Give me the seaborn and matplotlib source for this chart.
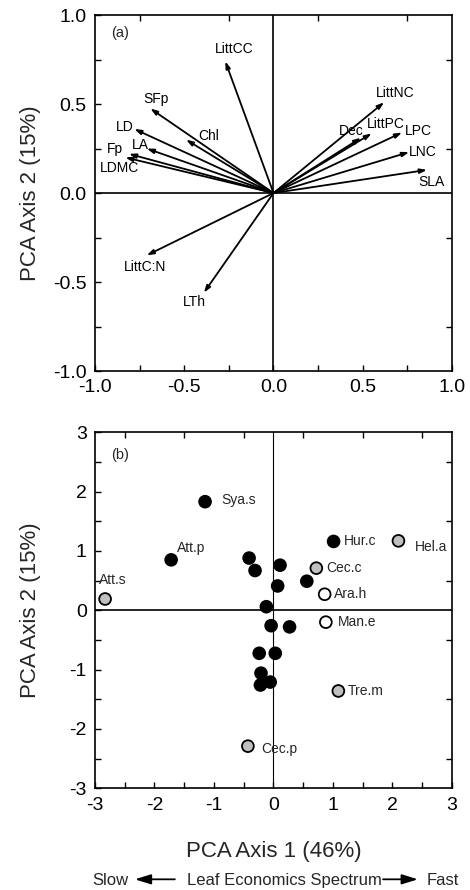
import matplotlib
matplotlib.use("Agg")
import matplotlib.pyplot as plt
import seaborn as sns
import pandas as pd
import numpy as np

# ---------------- data ----------------
# Panel (a): trait loadings
traits = ["LittCC", "SFp", "LD", "Chl", "LA", "Fp", "LDMC",
          "LittNC", "Dec", "LittPC", "LPC", "LNC", "SLA", "LittC:N", "LTh"]
load_pc1 = [-0.27, -0.69, -0.78, -0.49, -0.71, -0.81, -0.83,
            0.62, 0.49, 0.55, 0.72, 0.76, 0.86, -0.71, -0.39]
load_pc2 = [0.74, 0.475, 0.36, 0.30, 0.25, 0.22, 0.20,
            0.51, 0.31, 0.335, 0.34, 0.23, 0.13, -0.35, -0.56]

# Panel (b): species scores
species = ["Sya.s", "Att.p", "Att.s", "", "", "", "", "",
           "Hur.c", "Hel.a", "Cec.c", "Ara.h", "Man.e", "", "", "",
           "", "", "", "", "", "Tre.m", "Cec.p"]
score_pc1 = [-1.15, -1.72, -2.83, -0.41, -0.31, 0.11, 0.07, 0.56,
             1.01, 2.10, 0.72, 0.86, 0.88, -0.12, -0.04, 0.27,
             -0.24, 0.03, -0.21, -0.22, -0.055, 1.09, -0.43]
score_pc2 = [1.83, 0.85, 0.19, 0.88, 0.67, 0.76, 0.41, 0.49,
             1.16, 1.17, 0.71, 0.27, -0.20, 0.06, -0.26, -0.28,
             -0.725, -0.725, -1.06, -1.26, -1.21, -1.36, -2.29]
group = ["black", "black", "grey", "black", "black", "black", "black", "black",
         "black", "grey", "grey", "white", "white", "black", "black", "black",
         "black", "black", "black", "black", "black", "grey", "grey"]

# ---------------- style ----------------
sns.set_theme(style="ticks")
plt.rcParams["font.family"] = ["Liberation Sans", "DejaVu Sans"]
plt.rcParams["axes.linewidth"] = 1.2
plt.rcParams["axes.unicode_minus"] = False

fig = plt.figure(figsize=(4.7, 8.9), dpi=100)
axA = fig.add_axes([0.2021, 0.5831, 0.7596, 0.4])
axB = fig.add_axes([0.2021, 0.1143, 0.7596, 0.4])


def style_ax(ax, lim, major, minor):
    ax.set_xlim(-lim, lim)
    ax.set_ylim(-lim, lim)
    ax.set_xticks(np.arange(-lim, lim + 1e-9, major))
    ax.set_yticks(np.arange(-lim, lim + 1e-9, major))
    ax.set_xticks(np.arange(-lim, lim + 1e-9, minor), minor=True)
    ax.set_yticks(np.arange(-lim, lim + 1e-9, minor), minor=True)
    ax.tick_params(which="both", direction="in", length=4, width=1.0,
                   labelsize=14, colors="black")
    ax.tick_params(which="minor", top=True, right=True)
    ax.tick_params(which="major", pad=6)
    for s in ax.spines.values():
        s.set_visible(True)
        s.set_color("black")
        s.set_linewidth(1.2)
    ax.set_facecolor("white")


# ---------------- panel (a) ----------------
style_ax(axA, 1.0, 0.5, 0.25)
axA.set_xticklabels([f"{v:.1f}" for v in np.arange(-1.0, 1.01, 0.5)])
axA.set_yticklabels([f"{v:.1f}" for v in np.arange(-1.0, 1.01, 0.5)])
axA.axhline(0, color="black", lw=1.2, zorder=1)
axA.axvline(0, color="black", lw=1.2, zorder=1)
for x, y in zip(load_pc1, load_pc2):
    axA.annotate("", xy=(x, y), xytext=(0, 0),
                 arrowprops=dict(arrowstyle="-|>,head_length=0.45,head_width=0.15",
                                 lw=1.3, color="black", shrinkA=0, shrinkB=0,
                                 mutation_scale=9),
                 zorder=2)
# label placement (layout)
a_label_pos = {"LittCC": (-0.22, 0.81), "SFp": (-0.66, 0.53), "LD": (-0.835, 0.37),
               "Chl": (-0.365, 0.32), "LA": (-0.745, 0.27), "Fp": (-0.89, 0.245),
               "LDMC": (-0.86, 0.14), "LittNC": (0.68, 0.56), "Dec": (0.436, 0.35),
               "LittPC": (0.63, 0.39), "LPC": (0.81, 0.346), "LNC": (0.838, 0.228),
               "SLA": (0.885, 0.06), "LittC:N": (-0.72, -0.414), "LTh": (-0.446, -0.61)}
for t in traits:
    px, py = a_label_pos[t]
    axA.text(px, py, t, ha="center", va="center", fontsize=10, color="black")
axA.text(-0.86, 0.90, "(a)", ha="center", va="center", fontsize=10.5)
axA.set_ylabel("PCA Axis 2 (15%)", fontsize=16)
axA.yaxis.set_label_coords(-0.151, 0.5)
axA.set_xlabel("")

# ---------------- panel (b) ----------------
style_ax(axB, 3, 1, 0.5)
axB.axhline(0, color="black", lw=1.2, zorder=1)
axB.axvline(0, color="black", lw=0.8, zorder=1)
df = pd.DataFrame({"pc1": score_pc1, "pc2": score_pc2, "group": group,
                   "label": species})
sns.scatterplot(data=df, x="pc1", y="pc2", hue="group",
                palette={"black": "black", "grey": "#c0c0c0", "white": "white"},
                s=72, edgecolor="black", linewidth=1.3, legend=False,
                zorder=3, ax=axB)
b_label_pos = {"Sya.s": (-0.885, 1.86), "Att.p": (-1.615, 1.045),
               "Att.s": (-2.93, 0.51), "Hur.c": (1.18, 1.17), "Hel.a": (2.37, 1.06),
               "Cec.c": (0.88, 0.72), "Ara.h": (1.01, 0.27), "Man.e": (1.08, -0.20),
               "Tre.m": (1.245, -1.36), "Cec.p": (-0.21, -2.34)}
for lab in species:
    if lab:
        px, py = b_label_pos[lab]
        axB.text(px, py, lab, ha="left", va="center", fontsize=10, zorder=4)
axB.text(-2.58, 2.62, "(b)", ha="center", va="center", fontsize=10.5)
axB.set_ylabel("PCA Axis 2 (15%)", fontsize=16)
axB.yaxis.set_label_coords(-0.151, 0.5)
axB.set_xlabel("PCA Axis 1 (46%)", fontsize=16, labelpad=20)

# ---------------- bottom caption ----------------
yc = 0.011
fig.text(0.234, yc, "Slow", ha="center", va="center", fontsize=12)
fig.text(0.605, yc, "Leaf Economics Spectrum", ha="center", va="center", fontsize=12)
fig.text(0.943, yc, "Fast", ha="center", va="center", fontsize=12)
arrow_kw = dict(arrowstyle="-|>,head_length=0.8,head_width=0.25", lw=1.3,
                color="black", shrinkA=0, shrinkB=0, mutation_scale=12)
axB.annotate("", xy=(0.287, yc + 0.001), xytext=(0.372, yc + 0.001),
             xycoords="figure fraction", textcoords="figure fraction",
             arrowprops=arrow_kw, annotation_clip=False)
axB.annotate("", xy=(0.889, yc + 0.001), xytext=(0.815, yc + 0.001),
             xycoords="figure fraction", textcoords="figure fraction",
             arrowprops=arrow_kw, annotation_clip=False)

fig.savefig("out.png", dpi=100, facecolor="white")
